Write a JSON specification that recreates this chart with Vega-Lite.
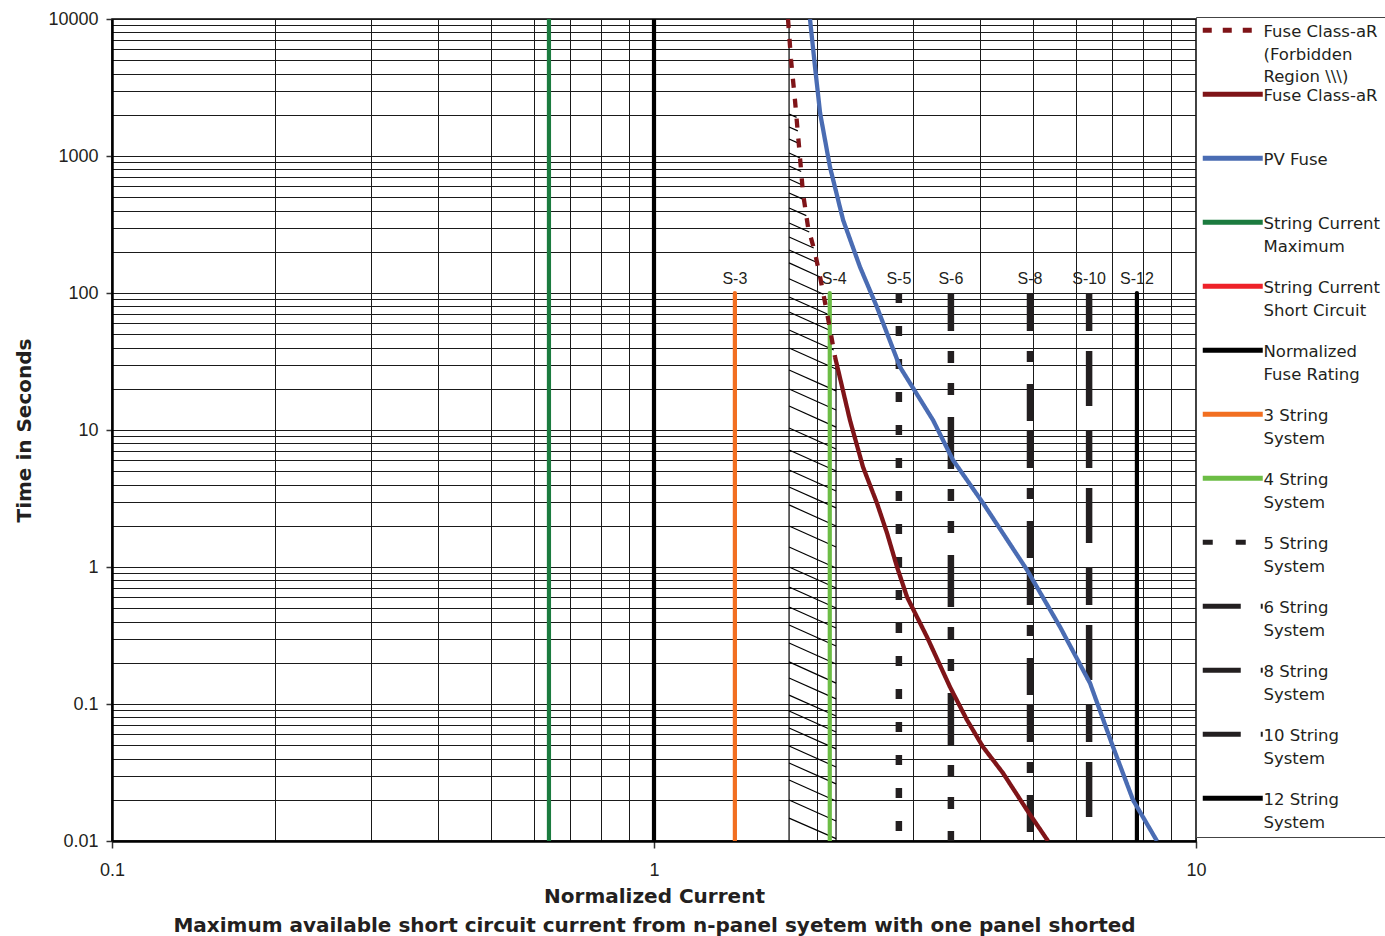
{
  "$schema": "https://vega.github.io/schema/vega-lite/v6.json",
  "width": 1084,
  "height": 822,
  "autosize": {"type": "none"},
  "padding": {"left": 112, "top": 19, "right": 189, "bottom": 95},
  "background": "white",
  "config": {
    "view": {"stroke": "#000", "strokeWidth": 1.5},
    "axis": {
      "grid": true,
      "gridColor": "#1a1a1a",
      "gridWidth": 1,
      "domainColor": "#000",
      "domainWidth": 2.5,
      "tickColor": "#333",
      "tickWidth": 1.5,
      "labelFont": "Liberation Sans",
      "labelFontSize": 18,
      "labelColor": "#231f20",
      "titleFont": "DejaVu Sans",
      "titleFontWeight": "bold",
      "titleFontSize": 20,
      "titleColor": "#231f20"
    }
  },
  "datasets": {
    "hatch": [
      {"x": 1.775, "t": 10000, "x2": 1.775, "t2": 0.01},
      {"x": 2.167, "t": 34, "x2": 2.167, "t2": 0.01},
      {"x": 1.775, "t": 2026, "x2": 1.833, "t2": 1913},
      {"x": 1.775, "t": 1628, "x2": 1.842, "t2": 1525},
      {"x": 1.775, "t": 1331, "x2": 1.850, "t2": 1236},
      {"x": 1.775, "t": 1052, "x2": 1.860, "t2": 967},
      {"x": 1.775, "t": 845, "x2": 1.869, "t2": 771},
      {"x": 1.775, "t": 679, "x2": 1.877, "t2": 615},
      {"x": 1.775, "t": 537, "x2": 1.891, "t2": 480},
      {"x": 1.775, "t": 417, "x2": 1.910, "t2": 367},
      {"x": 1.775, "t": 324, "x2": 1.934, "t2": 279},
      {"x": 1.775, "t": 256, "x2": 1.971, "t2": 213},
      {"x": 1.775, "t": 206, "x2": 1.999, "t2": 167},
      {"x": 1.775, "t": 166, "x2": 2.025, "t2": 131},
      {"x": 1.775, "t": 127, "x2": 2.054, "t2": 97.8},
      {"x": 1.775, "t": 93.5, "x2": 2.088, "t2": 70.3},
      {"x": 1.775, "t": 72.6, "x2": 2.113, "t2": 53.3},
      {"x": 1.775, "t": 53.7, "x2": 2.146, "t2": 38.4},
      {"x": 1.775, "t": 39.7, "x2": 2.167, "t2": 27.9},
      {"x": 1.775, "t": 27.4, "x2": 2.167, "t2": 19.3},
      {"x": 1.775, "t": 19.9, "x2": 2.167, "t2": 14.0},
      {"x": 1.775, "t": 14.97, "x2": 2.167, "t2": 10.5},
      {"x": 1.775, "t": 10.34, "x2": 2.167, "t2": 7.27},
      {"x": 1.775, "t": 7.14, "x2": 2.167, "t2": 5.02},
      {"x": 1.775, "t": 5.11, "x2": 2.167, "t2": 3.59},
      {"x": 1.775, "t": 3.84, "x2": 2.167, "t2": 2.70},
      {"x": 1.775, "t": 2.84, "x2": 2.167, "t2": 1.99},
      {"x": 1.775, "t": 1.99, "x2": 2.167, "t2": 1.40},
      {"x": 1.775, "t": 1.40, "x2": 2.167, "t2": 0.983},
      {"x": 1.775, "t": 1.0, "x2": 2.167, "t2": 0.703},
      {"x": 1.775, "t": 0.715, "x2": 2.167, "t2": 0.502},
      {"x": 1.775, "t": 0.510, "x2": 2.167, "t2": 0.359},
      {"x": 1.775, "t": 0.377, "x2": 2.167, "t2": 0.265},
      {"x": 1.775, "t": 0.279, "x2": 2.167, "t2": 0.196},
      {"x": 1.775, "t": 0.203, "x2": 2.167, "t2": 0.142},
      {"x": 1.775, "t": 0.155, "x2": 2.167, "t2": 0.109},
      {"x": 1.775, "t": 0.116, "x2": 2.167, "t2": 0.0818},
      {"x": 1.775, "t": 0.0889, "x2": 2.167, "t2": 0.0625},
      {"x": 1.775, "t": 0.0668, "x2": 2.167, "t2": 0.0470},
      {"x": 1.775, "t": 0.0494, "x2": 2.167, "t2": 0.0347},
      {"x": 1.775, "t": 0.0371, "x2": 2.167, "t2": 0.0261},
      {"x": 1.775, "t": 0.0279, "x2": 2.167, "t2": 0.0196},
      {"x": 1.775, "t": 0.0199, "x2": 2.167, "t2": 0.0140},
      {"x": 1.775, "t": 0.0147, "x2": 2.167, "t2": 0.0104}
    ],
    "solidLines": [
      {"series": "String Current\nMaximum", "x": 0.64, "t": 10000, "t2": 0.01},
      {"series": "Normalized\nFuse Rating", "x": 1, "t": 10000, "t2": 0.01},
      {"series": "3 String\nSystem", "x": 1.41, "t": 100, "t2": 0.01},
      {"series": "4 String\nSystem", "x": 2.11, "t": 100, "t2": 0.01},
      {"series": "12 String\nSystem", "x": 7.78, "t": 100, "t2": 0.01}
    ],
    "dashedLines": [
      {"series": "5 String\nSystem", "x": 2.83, "t": 100, "t2": 0.01},
      {"series": "6 String\nSystem", "x": 3.53, "t": 100, "t2": 0.01},
      {"series": "8 String\nSystem", "x": 4.94, "t": 100, "t2": 0.01},
      {"series": "10 String\nSystem", "x": 6.35, "t": 100, "t2": 0.01}
    ],
    "curves": [
      {"series": "Fuse Class-aR\n(Forbidden\nRegion \\\\\\)", "i": 1, "x": 1.767, "t": 10000},
      {"series": "Fuse Class-aR\n(Forbidden\nRegion \\\\\\)", "i": 2, "x": 1.790, "t": 5020},
      {"series": "Fuse Class-aR\n(Forbidden\nRegion \\\\\\)", "i": 3, "x": 1.820, "t": 2563},
      {"series": "Fuse Class-aR\n(Forbidden\nRegion \\\\\\)", "i": 4, "x": 1.859, "t": 984},
      {"series": "Fuse Class-aR\n(Forbidden\nRegion \\\\\\)", "i": 5, "x": 1.883, "t": 537},
      {"series": "Fuse Class-aR\n(Forbidden\nRegion \\\\\\)", "i": 6, "x": 1.924, "t": 303},
      {"series": "Fuse Class-aR\n(Forbidden\nRegion \\\\\\)", "i": 7, "x": 1.982, "t": 196},
      {"series": "Fuse Class-aR\n(Forbidden\nRegion \\\\\\)", "i": 8, "x": 2.025, "t": 131},
      {"series": "Fuse Class-aR\n(Forbidden\nRegion \\\\\\)", "i": 9, "x": 2.086, "t": 71.4},
      {"series": "Fuse Class-aR\n(Forbidden\nRegion \\\\\\)", "i": 10, "x": 2.158, "t": 34.1},
      {"series": "Fuse Class-aR", "i": 1, "x": 2.158, "t": 34.1},
      {"series": "Fuse Class-aR", "i": 2, "x": 2.299, "t": 11.8},
      {"series": "Fuse Class-aR", "i": 3, "x": 2.430, "t": 5.37},
      {"series": "Fuse Class-aR", "i": 4, "x": 2.578, "t": 2.93},
      {"series": "Fuse Class-aR", "i": 5, "x": 2.691, "t": 1.77},
      {"series": "Fuse Class-aR", "i": 6, "x": 2.808, "t": 1.0},
      {"series": "Fuse Class-aR", "i": 7, "x": 2.930, "t": 0.604},
      {"series": "Fuse Class-aR", "i": 8, "x": 3.190, "t": 0.308},
      {"series": "Fuse Class-aR", "i": 9, "x": 3.517, "t": 0.133},
      {"series": "Fuse Class-aR", "i": 10, "x": 3.780, "t": 0.0764},
      {"series": "Fuse Class-aR", "i": 11, "x": 4.046, "t": 0.0486},
      {"series": "Fuse Class-aR", "i": 12, "x": 4.405, "t": 0.0313},
      {"series": "Fuse Class-aR", "i": 13, "x": 4.878, "t": 0.0168},
      {"series": "Fuse Class-aR", "i": 14, "x": 5.333, "t": 0.01},
      {"series": "PV Fuse", "i": 1, "x": 1.940, "t": 10000},
      {"series": "PV Fuse", "i": 2, "x": 1.982, "t": 4463},
      {"series": "PV Fuse", "i": 3, "x": 2.025, "t": 2061},
      {"series": "PV Fuse", "i": 4, "x": 2.112, "t": 831},
      {"series": "PV Fuse", "i": 5, "x": 2.233, "t": 341},
      {"series": "PV Fuse", "i": 6, "x": 2.399, "t": 155},
      {"series": "PV Fuse", "i": 7, "x": 2.578, "t": 79.0},
      {"series": "PV Fuse", "i": 8, "x": 2.844, "t": 28.8},
      {"series": "PV Fuse", "i": 9, "x": 3.272, "t": 11.8},
      {"series": "PV Fuse", "i": 10, "x": 3.561, "t": 6.04},
      {"series": "PV Fuse", "i": 11, "x": 4.046, "t": 2.93},
      {"series": "PV Fuse", "i": 12, "x": 4.878, "t": 0.951},
      {"series": "PV Fuse", "i": 13, "x": 5.613, "t": 0.365},
      {"series": "PV Fuse", "i": 14, "x": 6.375, "t": 0.142},
      {"series": "PV Fuse", "i": 15, "x": 7.030, "t": 0.0486},
      {"series": "PV Fuse", "i": 16, "x": 7.653, "t": 0.0199},
      {"series": "PV Fuse", "i": 17, "x": 8.472, "t": 0.01}
    ],
    "labels": [
      {"label": "S-3", "x": 1.41, "t": 100},
      {"label": "S-4", "x": 2.15, "t": 100},
      {"label": "S-5", "x": 2.83, "t": 100},
      {"label": "S-6", "x": 3.53, "t": 100},
      {"label": "S-8", "x": 4.94, "t": 100},
      {"label": "S-10", "x": 6.35, "t": 100},
      {"label": "S-12", "x": 7.78, "t": 100}
    ]
  },
  "layer": [
    {
      "data": {"name": "hatch"},
      "mark": {"type": "rule", "color": "#000", "strokeWidth": 1.2, "clip": true},
      "encoding": {
        "x": {
          "field": "x", "type": "quantitative",
          "scale": {"type": "log", "domain": [0.1, 10], "nice": false},
          "axis": {
            "title": ["Normalized Current", "Maximum available short circuit current from n-panel syetem with one panel shorted"],
            "titleLineHeight": 29,
            "titlePadding": 7,
            "values": [0.1, 0.2, 0.3, 0.4, 0.5, 0.6, 0.7, 0.8, 0.9, 1, 2, 3, 4, 5, 6, 7, 8, 9, 10],
            "format": "~g",
            "labelExpr": "indexof([0.1, 1, 10], datum.value) >= 0 ? datum.label : ''",
            "tickSize": 7,
            "tickOpacity": {"condition": {"test": "indexof([0.1, 1, 10], datum.value) >= 0", "value": 1}, "value": 0},
            "labelPadding": 13,
            "labelFlush": false,
            "labelOverlap": false
          }
        },
        "y": {
          "field": "t", "type": "quantitative",
          "scale": {"type": "log", "domain": [0.01, 10000], "nice": false},
          "axis": {
            "title": "Time in Seconds",
            "titlePadding": 13,
            "values": [0.01, 0.02, 0.03, 0.04, 0.05, 0.06, 0.07, 0.08, 0.09, 0.1, 0.2, 0.3, 0.4, 0.5, 0.6, 0.7, 0.8, 0.9, 1, 2, 3, 4, 5, 6, 7, 8, 9, 10, 20, 30, 40, 50, 60, 70, 80, 90, 100, 200, 300, 400, 500, 600, 700, 800, 900, 1000, 2000, 3000, 4000, 5000, 6000, 7000, 8000, 9000, 10000],
            "format": "~g",
            "labelExpr": "indexof([0.01, 0.1, 1, 10, 100, 1000, 10000], datum.value) >= 0 ? datum.label : ''",
            "tickSize": 6,
            "tickOpacity": {"condition": {"test": "indexof([0.01, 0.1, 1, 10, 100, 1000, 10000], datum.value) >= 0", "value": 1}, "value": 0},
            "labelPadding": 8,
            "labelFlush": false,
            "labelOverlap": false
          }
        },
        "x2": {"field": "x2"},
        "y2": {"field": "t2"}
      }
    },
    {
      "data": {"name": "solidLines"},
      "mark": {"type": "rule", "strokeWidth": 4.2, "strokeCap": "round", "clip": true},
      "encoding": {
        "x": {"field": "x", "type": "quantitative"},
        "y": {"field": "t", "type": "quantitative"},
        "y2": {"field": "t2"},
        "color": {
          "field": "series", "type": "nominal",
          "scale": {
            "domain": ["Fuse Class-aR\n(Forbidden\nRegion \\\\\\)", "Fuse Class-aR", "PV Fuse", "String Current\nMaximum", "String Current\nShort Circuit", "Normalized\nFuse Rating", "3 String\nSystem", "4 String\nSystem", "5 String\nSystem", "6 String\nSystem", "8 String\nSystem", "10 String\nSystem", "12 String\nSystem"],
            "range": ["#7f1418", "#7f1418", "#4a6cb3", "#1b7b3f", "#ee2229", "#000000", "#f26f21", "#6cbd45", "#231f20", "#231f20", "#231f20", "#231f20", "#000000"]
          },
          "legend": {
            "orient": "none",
            "legendX": 1084,
            "legendY": -2,
            "title": null,
            "symbolType": "M-7.5,0L7.5,0",
            "symbolSize": 64,
            "symbolOffset": 23.5,
            "symbolStrokeWidth": 5,
            "labelFont": "DejaVu Sans",
            "labelFontSize": 16.5,
            "labelColor": "#231f20",
            "labelBaseline": "alphabetic",
            "labelOffset": 22.5,
            "labelLimit": 400,
            "labelExpr": "slice(split(datum.label + '\\n\\n', '\\n'), 0, indexof(datum.label, '12 String') == 0 ? 2 : 3)",
            "rowPadding": -3.5,
            "padding": 5,
            "strokeColor": "#444",
            "fillColor": "#ffffff",
            "symbolLimit": 50,
            "encode": {"labels": {"update": {"lineHeight": {"value": 22.4}, "dy": {"value": 7}}}}
          }
        },
        "strokeDash": {
          "field": "series", "type": "nominal",
          "scale": {
            "domain": ["Fuse Class-aR\n(Forbidden\nRegion \\\\\\)", "Fuse Class-aR", "PV Fuse", "String Current\nMaximum", "String Current\nShort Circuit", "Normalized\nFuse Rating", "3 String\nSystem", "4 String\nSystem", "5 String\nSystem", "6 String\nSystem", "8 String\nSystem", "10 String\nSystem", "12 String\nSystem"],
            "range": [[9, 11], [1, 0], [1, 0], [1, 0], [1, 0], [1, 0], [1, 0], [1, 0], [10, 23], [38, 20, 12, 20, 12, 22, 14, 0], [38, 20, 11, 22, 37, 9], [38, 20, 55, 24], [1, 0]]
          }
        }
      }
    },
    {
      "data": {"name": "dashedLines"},
      "mark": {"type": "rule", "strokeWidth": 6.5, "clip": true},
      "encoding": {
        "x": {"field": "x", "type": "quantitative"},
        "y": {"field": "t", "type": "quantitative"},
        "y2": {"field": "t2"},
        "color": {"field": "series", "type": "nominal"},
        "strokeDash": {"field": "series", "type": "nominal"}
      }
    },
    {
      "data": {"name": "curves"},
      "mark": {"type": "line", "strokeWidth": 4.3, "strokeCap": "butt", "clip": true},
      "encoding": {
        "x": {"field": "x", "type": "quantitative"},
        "y": {"field": "t", "type": "quantitative"},
        "order": {"field": "i", "type": "quantitative"},
        "color": {"field": "series", "type": "nominal"},
        "strokeDash": {"field": "series", "type": "nominal"}
      }
    },
    {
      "data": {"name": "labels"},
      "mark": {"type": "text", "font": "Liberation Sans", "fontSize": 16, "baseline": "middle", "dy": -14, "color": "#231f20"},
      "encoding": {
        "x": {"field": "x", "type": "quantitative"},
        "y": {"field": "t", "type": "quantitative"},
        "text": {"field": "label"}
      }
    }
  ]
}
